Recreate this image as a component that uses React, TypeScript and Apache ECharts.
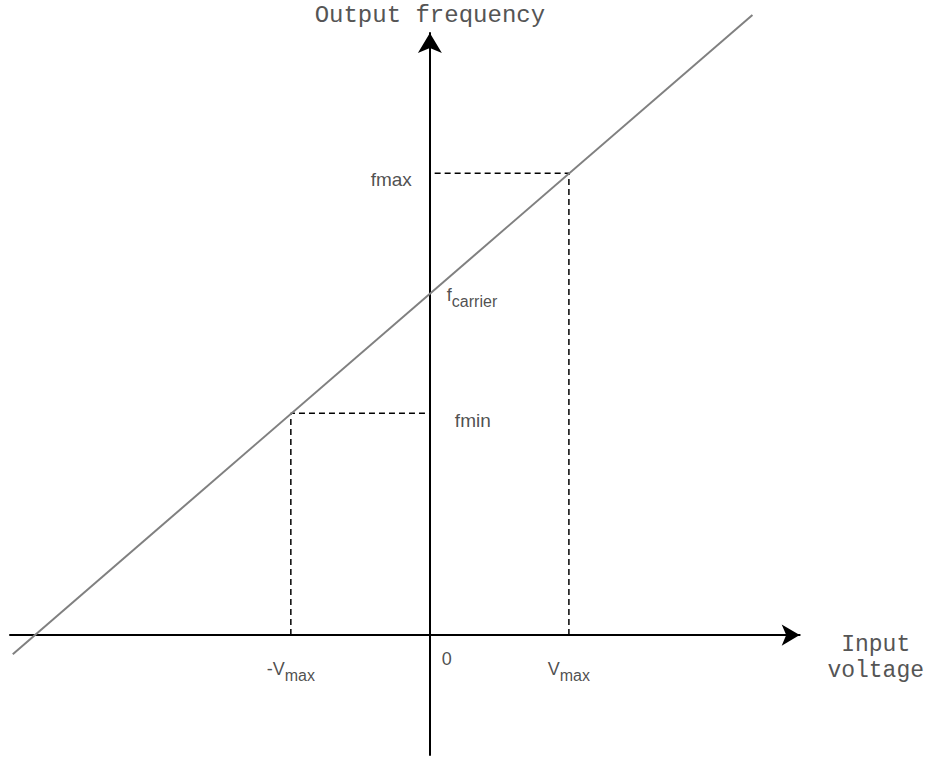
import React, { useEffect, useRef } from "react";
import * as echarts from "echarts";

// Input voltage axis (Vmax = 1 unit), output frequency axis (fmax - fcarrier = 1 unit)
const xRange = [-3.02, 2.66];
const yRange = [-1, 5.02];

const vmax = 1;
const fCarrier = 2.85;
const fMax = 3.85;
const fMin = 1.85;

// VCO characteristic line endpoints (extends beyond the axes)
const lineV = [-3.0, 2.32];
const lineF = [-0.16, 5.17];

const voltageTicks = [-vmax, 0, vmax];
const voltageLabels = ["-V{sub|max}", "0", "V{sub|max}"];

const freqTicks = [fMax, fCarrier, fMin];
const freqLabels = ["fmax", "f{sub|carrier}", "fmin"];

export default function App() {
  const ref = useRef<HTMLDivElement>(null);
  useEffect(() => {
    if (!ref.current) return;
    const chart = echarts.init(ref.current, undefined, { renderer: "svg" });
    const labelFont = "'Liberation Sans', Arial, sans-serif";
    const monoFont = "'Liberation Mono', 'Courier New', monospace";
    const rich = {
      sub: { fontSize: 16, fontFamily: labelFont, color: "#222", padding: [13, 0, 0, 0] },
    };
    chart.setOption({
      animation: false,
      backgroundColor: "#ffffff",
      grid: { left: 10, right: 127, top: 33, bottom: 3 },
      xAxis: {
        type: "value",
        min: xRange[0],
        max: xRange[1],
        name: "Input\nvoltage",
        nameLocation: "end",
        nameGap: 76,
        nameTextStyle: {
          fontFamily: monoFont,
          fontSize: 23,
          color: "#555",
          align: "center",
          verticalAlign: "top",
          lineHeight: 26,
          padding: [-3, 0, 0, 0],
        },
        axisLine: {
          onZero: true,
          symbol: ["none", "arrow"],
          symbolSize: [16, 18],
          lineStyle: { color: "#000", width: 2 },
        },
        axisTick: { show: false },
        axisLabel: { show: false },
        splitLine: { show: false },
      },
      yAxis: {
        type: "value",
        min: yRange[0],
        max: yRange[1],
        name: "Output frequency",
        nameLocation: "end",
        nameGap: 6,
        nameTextStyle: {
          fontFamily: monoFont,
          fontSize: 24,
          color: "#555",
          align: "center",
        },
        axisLine: {
          onZero: true,
          symbol: ["none", "arrow"],
          symbolSize: [18, 20],
          lineStyle: { color: "#000", width: 2 },
        },
        axisTick: { show: false },
        axisLabel: { show: false },
        splitLine: { show: false },
      },
      series: [
        {
          type: "line",
          data: [
            [lineV[0], lineF[0]],
            [lineV[1], lineF[1]],
          ],
          clip: false,
          symbol: "none",
          lineStyle: { color: "#808080", width: 2 },
          z: 3,
        },
        {
          type: "line",
          data: [
            [-vmax, 0],
            [-vmax, fMin],
            [0, fMin],
          ],
          symbol: "none",
          lineStyle: { color: "#000", width: 1.5, type: [6, 4] },
          z: 2,
        },
        {
          type: "line",
          data: [
            [vmax, 0],
            [vmax, fMax],
            [0, fMax],
          ],
          symbol: "none",
          lineStyle: { color: "#000", width: 1.5, type: [6, 4] },
          z: 2,
        },
        {
          type: "scatter",
          symbolSize: 0,
          silent: true,
          data: voltageTicks.map((v, i) => ({
            value: [v, 0],
            label: {
              show: true,
              position: "bottom",
              formatter: voltageLabels[i],
              offset: v === 0 ? [17, 10] : [0, 14],
              fontSize: 18,
              fontFamily: labelFont,
              color: "#222",
              rich,
            },
          })),
        },
        {
          type: "scatter",
          symbolSize: 0,
          silent: true,
          data: freqTicks.map((f, i) => ({
            value: [0, f],
            label: {
              show: true,
              position: i === 0 ? "left" : "right",
              formatter: freqLabels[i],
              offset: i === 0 ? [-13, 6] : i === 1 ? [12, 2] : [20, 7],
              fontSize: i === 1 ? 18 : 19,
              fontFamily: labelFont,
              color: "#222",
              rich,
            },
          })),
        },
      ],
    });
    return () => chart.dispose();
  }, []);
  return (
    <div
      ref={ref}
      style={{ position: "fixed", left: 0, top: 0, width: 927, height: 758 }}
    />
  );
}
